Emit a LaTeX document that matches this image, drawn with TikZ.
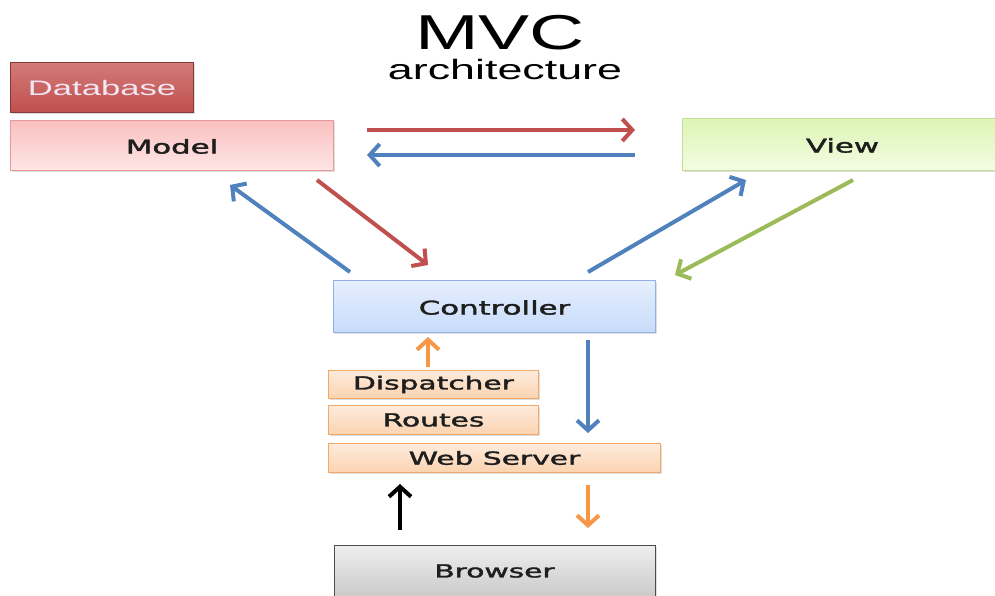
\documentclass[tikz,border=0pt]{standalone}
\usepackage{graphicx}
\usepackage{fontspec}
\setmainfont{DejaVu Sans}
\newfontfamily\boxfont{DejaVu Sans}[FakeBold=1.6]
\newfontfamily\titlefont{Liberation Sans}
\usetikzlibrary{arrows.meta,shadows}
\newcommand\widetxt[2][1.62]{\scalebox{#1}[1]{#2}}
\definecolor{dbfill}{HTML}{C0504D}
\definecolor{dbtop}{HTML}{D27A78}
\definecolor{mdtop}{HTML}{F9C0C0}
\definecolor{mdbot}{HTML}{FFE6E6}
\definecolor{mdline}{HTML}{E89A9A}
\definecolor{vwtop}{HTML}{DDF5B5}
\definecolor{vwbot}{HTML}{F3FCE2}
\definecolor{vwline}{HTML}{C2DE96}
\definecolor{cttop}{HTML}{C7DBFA}
\definecolor{ctbot}{HTML}{E6EFFD}
\definecolor{ctline}{HTML}{90B2E6}
\definecolor{ortop}{HTML}{FBD3B0}
\definecolor{orbot}{HTML}{FDEBDD}
\definecolor{orline}{HTML}{F2A968}
\definecolor{grtop}{HTML}{EEEEEE}
\definecolor{grbot}{HTML}{C8C8C8}
\definecolor{ared}{HTML}{C0504D}
\definecolor{ablue}{HTML}{4F81BD}
\definecolor{agreen}{HTML}{9BBB59}
\definecolor{aorange}{HTML}{F79646}
\definecolor{dbtext}{HTML}{F3E6F5}
\definecolor{txt}{HTML}{1E1E1E}
\begin{document}
\begin{tikzpicture}[x=1pt,y=-1pt,
  box/.style={draw, line width=1pt, inner sep=0pt, anchor=north west, drop shadow={shadow xshift=1.5pt,shadow yshift=-1.5pt,opacity=0.25}},
  lbl/.style={inner sep=0pt, text=txt, font=\boxfont\fontsize{19}{22}\selectfont},
  arr/.style={line width=4pt, -{Straight Barb[length=10pt,width=22pt,line width=4pt]}},
]
\useasboundingbox (0,0) rectangle (995,595);
% title
\node[inner sep=0pt] (t1) at (500,33) {\titlefont\fontsize{49}{52}\selectfont\widetxt[1.56]{MVC}};
\node[inner sep=0pt, anchor=base] (t2) at (505,79) {\titlefont\fontsize{28}{30}\selectfont\widetxt[1.6]{architecture}};
% boxes
\node[box, draw=dbfill!70!black, top color=dbtop, bottom color=dbfill, minimum width=183pt, minimum height=50pt] (db) at (10,62) {};
\node[inner sep=0pt, text=dbtext, font=\titlefont\fontsize{21}{24}\selectfont] (dbl) at (db.center) {\widetxt[1.65]{Database}};
\node[box, draw=mdline, top color=mdtop, bottom color=mdbot, minimum width=323pt, minimum height=50pt] (model) at (10,120) {};
\node[lbl] (modell) at ([yshift=-1pt]model.center) {\widetxt{Model}};
\node[box, draw=vwline, top color=vwtop, bottom color=vwbot, minimum width=320pt, minimum height=52pt] (view) at (682,118) {};
\node[lbl] (viewl) at ([yshift=-1pt]view.center) {\widetxt{View}};
\node[box, draw=ctline, top color=ctbot, bottom color=cttop, minimum width=322pt, minimum height=52pt] (ctrl) at (333,280) {};
\node[lbl] (ctrll) at ([yshift=-1pt]ctrl.center) {\widetxt{Controller}};
\node[box, draw=orline, top color=orbot, bottom color=ortop, minimum width=210pt, minimum height=28pt] (disp) at (328,370) {};
\node[lbl, font=\boxfont\fontsize{18}{21}\selectfont] (displ) at (disp.center) {\widetxt[1.65]{Dispatcher}};
\node[box, draw=orline, top color=orbot, bottom color=ortop, minimum width=210pt, minimum height=29pt] (routes) at (328,405) {};
\node[lbl, font=\boxfont\fontsize{18}{21}\selectfont] (routesl) at (routes.center) {\widetxt[1.65]{Routes}};
\node[box, draw=orline, top color=orbot, bottom color=ortop, minimum width=332pt, minimum height=29pt] (ws) at (328,443) {};
\node[lbl, font=\boxfont\fontsize{18}{21}\selectfont] (wsl) at (ws.center) {\widetxt[1.65]{Web Server}};
\node[box, draw=black!70, top color=grtop, bottom color=grbot, minimum width=321pt, minimum height=54pt] (br) at (334,545) {};
\node[lbl, font=\boxfont\fontsize{18}{21}\selectfont] (brl) at (494.5,571) {\widetxt[1.65]{Browser}};
% connector endpoints
\coordinate (a1s) at (367,130); \coordinate (a1e) at (635,130);
\coordinate (a2s) at (635,155); \coordinate (a2e) at (367,155);
\coordinate (a3s) at (350,272); \coordinate (a3e) at (230,185);
\coordinate (a4s) at (317,180); \coordinate (a4e) at (428,265);
\coordinate (a5s) at (588,272); \coordinate (a5e) at (746,180);
\coordinate (a6s) at (853,180); \coordinate (a6e) at (675,275);
\coordinate (a7s) at (428,367); \coordinate (a7e) at (428,337);
\coordinate (a8s) at (588,340); \coordinate (a8e) at (588,433);
\coordinate (a9s) at (400,530); \coordinate (a9e) at (400,484);
\coordinate (a10s) at (588,485); \coordinate (a10e) at (588,528);
\draw[arr, ared] (a1s) -- (a1e);
\draw[arr, ablue] (a2s) -- (a2e);
\draw[arr, ablue] (a3s) -- (a3e);
\draw[arr, ared] (a4s) -- (a4e);
\draw[arr, ablue] (a5s) -- (a5e);
\draw[arr, agreen] (a6s) -- (a6e);
\draw[arr, aorange] (a7s) -- (a7e);
\draw[arr, ablue] (a8s) -- (a8e);
\draw[arr, black] (a9s) -- (a9e);
\draw[arr, aorange] (a10s) -- (a10e);
\end{tikzpicture}
\end{document}
